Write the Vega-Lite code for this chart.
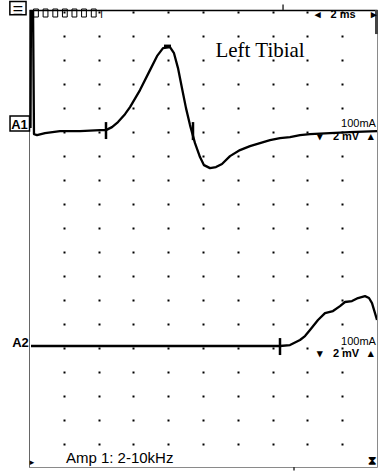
{
  "$schema": "https://vega.github.io/schema/vega-lite/v6.json",
  "width": 348,
  "height": 457,
  "autosize": {"type": "none"},
  "padding": {"left": 29, "top": 10, "right": 1, "bottom": 4},
  "background": "white",
  "config": {"view": {"stroke": "#8a8a8a", "strokeWidth": 1}},
  "datasets": {
    "traces": [
      {"ch": "A1", "t": 0.086, "v": 28.18},
      {"ch": "A1", "t": 0.115, "v": 38.5},
      {"ch": "A1", "t": 0.230, "v": 38.5},
      {"ch": "A1", "t": 0.287, "v": 27.68},
      {"ch": "A1", "t": 0.460, "v": 27.60},
      {"ch": "A1", "t": 0.920, "v": 27.76},
      {"ch": "A1", "t": 1.782, "v": 27.93},
      {"ch": "A1", "t": 2.931, "v": 27.93},
      {"ch": "A1", "t": 4.080, "v": 28.01},
      {"ch": "A1", "t": 4.425, "v": 28.01},
      {"ch": "A1", "t": 4.770, "v": 28.26},
      {"ch": "A1", "t": 5.115, "v": 28.68},
      {"ch": "A1", "t": 5.517, "v": 29.34},
      {"ch": "A1", "t": 5.805, "v": 29.93},
      {"ch": "A1", "t": 6.379, "v": 31.34},
      {"ch": "A1", "t": 6.954, "v": 33.00},
      {"ch": "A1", "t": 7.356, "v": 34.16},
      {"ch": "A1", "t": 7.701, "v": 34.83},
      {"ch": "A1", "t": 8.103, "v": 34.91},
      {"ch": "A1", "t": 8.333, "v": 34.41},
      {"ch": "A1", "t": 8.563, "v": 33.17},
      {"ch": "A1", "t": 8.793, "v": 31.50},
      {"ch": "A1", "t": 9.023, "v": 29.84},
      {"ch": "A1", "t": 9.253, "v": 28.43},
      {"ch": "A1", "t": 9.540, "v": 26.93},
      {"ch": "A1", "t": 9.828, "v": 25.77},
      {"ch": "A1", "t": 10.057, "v": 25.10},
      {"ch": "A1", "t": 10.402, "v": 24.85},
      {"ch": "A1", "t": 10.747, "v": 24.94},
      {"ch": "A1", "t": 11.092, "v": 25.19},
      {"ch": "A1", "t": 11.552, "v": 25.85},
      {"ch": "A1", "t": 12.126, "v": 26.35},
      {"ch": "A1", "t": 12.701, "v": 26.68},
      {"ch": "A1", "t": 13.276, "v": 26.93},
      {"ch": "A1", "t": 13.851, "v": 27.18},
      {"ch": "A1", "t": 14.425, "v": 27.35},
      {"ch": "A1", "t": 15.000, "v": 27.43},
      {"ch": "A1", "t": 15.575, "v": 27.60},
      {"ch": "A1", "t": 16.149, "v": 27.68},
      {"ch": "A1", "t": 17.299, "v": 27.76},
      {"ch": "A1", "t": 18.448, "v": 27.85},
      {"ch": "A1", "t": 20.000, "v": 27.93},
      {"ch": "A2", "t": 0.115, "v": 10.06},
      {"ch": "A2", "t": 14.425, "v": 10.06},
      {"ch": "A2", "t": 15.000, "v": 10.14},
      {"ch": "A2", "t": 15.575, "v": 10.56},
      {"ch": "A2", "t": 15.862, "v": 10.89},
      {"ch": "A2", "t": 16.149, "v": 11.39},
      {"ch": "A2", "t": 16.609, "v": 12.22},
      {"ch": "A2", "t": 17.011, "v": 12.80},
      {"ch": "A2", "t": 17.471, "v": 12.97},
      {"ch": "A2", "t": 17.874, "v": 13.38},
      {"ch": "A2", "t": 18.161, "v": 13.72},
      {"ch": "A2", "t": 18.563, "v": 13.80},
      {"ch": "A2", "t": 18.908, "v": 14.05},
      {"ch": "A2", "t": 19.310, "v": 14.21},
      {"ch": "A2", "t": 19.540, "v": 14.05},
      {"ch": "A2", "t": 19.713, "v": 13.63},
      {"ch": "A2", "t": 19.885, "v": 12.80},
      {"ch": "A2", "t": 20.000, "v": 12.22}
    ]
  },
  "layer": [
    {
      "data": {"name": "traces"},
      "mark": {"type": "line", "color": "black", "strokeWidth": 2.3, "strokeJoin": "round", "clip": true},
      "encoding": {
        "x": {"field": "t", "type": "quantitative", "scale": {"domain": [0, 20], "nice": false, "zero": false},
          "axis": {"orient": "top", "values": [2, 4, 6, 8, 10, 12, 14, 16, 18], "grid": true, "gridColor": "black", "gridWidth": 2, "gridDash": [2, 22], "gridDashOffset": 2, "gridOpacity": 1, "domainColor": "black", "domainWidth": 1.5, "labels": false, "ticks": false, "title": null}},
        "y": {"field": "v", "type": "quantitative", "scale": {"domain": [0, 38], "nice": false, "zero": false},
          "axis": {"domainColor": "#666", "domainWidth": 1, "labels": false, "ticks": false, "grid": false, "title": null}},
        "detail": {"field": "ch"}
      }
    },
    {
      "data": {"values": [
        {"t": 4.425, "v": 28.68, "v2": 27.27},
        {"t": 9.425, "v": 28.68, "v2": 27.18},
        {"t": 14.425, "v": 10.72, "v2": 9.31}
      ]},
      "mark": {"type": "rule", "color": "black", "strokeWidth": 2.5},
      "encoding": {
        "x": {"field": "t", "type": "quantitative", "scale": {"domain": [0, 20], "nice": false, "zero": false}},
        "y": {"field": "v", "type": "quantitative", "scale": {"domain": [0, 38], "nice": false, "zero": false}},
        "y2": {"field": "v2"}
      }
    },
    {
      "data": {"values": [
        {"t": 14.6, "v": 38.45, "v2": 38},
        {"t": 15.23, "v": 0, "v2": -0.3}
      ]},
      "mark": {"type": "rule", "color": "#333", "strokeWidth": 1.5},
      "encoding": {
        "x": {"field": "t", "type": "quantitative", "scale": {"domain": [0, 20], "nice": false, "zero": false}},
        "y": {"field": "v", "type": "quantitative", "scale": {"domain": [0, 38], "nice": false, "zero": false}},
        "y2": {"field": "v2"}
      }
    },
    {
      "data": {"values": [{"t": 7.76, "t2": 8.16, "v": 35.0}]},
      "mark": {"type": "rule", "color": "black", "strokeWidth": 3},
      "encoding": {
        "x": {"field": "t", "type": "quantitative", "scale": {"domain": [0, 20], "nice": false, "zero": false}},
        "x2": {"field": "t2"},
        "y": {"field": "v", "type": "quantitative", "scale": {"domain": [0, 38], "nice": false, "zero": false}}
      }
    },
    {
      "data": {"values": [{"t": 19.97, "v": 38, "v2": 36}]},
      "mark": {"type": "rule", "color": "#444", "strokeWidth": 3},
      "encoding": {
        "x": {"field": "t", "type": "quantitative", "scale": {"domain": [0, 20], "nice": false, "zero": false}},
        "y": {"field": "v", "type": "quantitative", "scale": {"domain": [0, 38], "nice": false, "zero": false}},
        "y2": {"field": "v2"}
      }
    },
    {
      "data": {"values": [{"t": -1.09, "t2": 0.03, "v": 29.18, "v2": 27.93}]},
      "mark": {"type": "rect", "fill": "white", "stroke": "black", "strokeWidth": 1.5},
      "encoding": {
        "x": {"field": "t", "type": "quantitative", "scale": {"domain": [0, 20], "nice": false, "zero": false}},
        "x2": {"field": "t2"},
        "y": {"field": "v", "type": "quantitative", "scale": {"domain": [0, 38], "nice": false, "zero": false}},
        "y2": {"field": "v2"}
      }
    },
    {
      "data": {"values": [{"t": -1.1, "t2": -0.17, "v": 38.7, "v2": 37.6}]},
      "mark": {"type": "rect", "fill": "white", "stroke": "black", "strokeWidth": 1.5},
      "encoding": {
        "x": {"field": "t", "type": "quantitative", "scale": {"domain": [0, 20], "nice": false, "zero": false}},
        "x2": {"field": "t2"},
        "y": {"field": "v", "type": "quantitative", "scale": {"domain": [0, 38], "nice": false, "zero": false}},
        "y2": {"field": "v2"}
      }
    },
    {
      "data": {"values": [{"t": -0.64, "v": 37.55, "label": "☰"}]},
      "mark": {"type": "text", "font": "DejaVu Sans", "fontSize": 12, "align": "center", "baseline": "alphabetic", "color": "black"},
      "encoding": {
        "x": {"field": "t", "type": "quantitative", "scale": {"domain": [0, 20], "nice": false, "zero": false}},
        "y": {"field": "v", "type": "quantitative", "scale": {"domain": [0, 38], "nice": false, "zero": false}},
        "text": {"field": "label"}
      }
    },
    {
      "data": {"values": [
        {"t": 0.40, "v": 37.75}, {"t": 0.95, "v": 37.75}, {"t": 1.51, "v": 37.75}, {"t": 2.06, "v": 37.75},
        {"t": 2.61, "v": 37.75}, {"t": 3.16, "v": 37.75}, {"t": 3.72, "v": 37.75}
      ]},
      "mark": {"type": "point", "shape": "M-0.6,-1L0.6,-1L0.6,1L-0.6,1Z", "filled": false, "color": "black", "size": 64, "strokeWidth": 1, "opacity": 1},
      "encoding": {
        "x": {"field": "t", "type": "quantitative", "scale": {"domain": [0, 20], "nice": false, "zero": false}},
        "y": {"field": "v", "type": "quantitative", "scale": {"domain": [0, 38], "nice": false, "zero": false}}
      }
    },
    {
      "data": {"values": [{"t": 4.25, "v": 37.35, "label": "Г"}]},
      "mark": {"type": "text", "font": "Liberation Sans", "fontSize": 10, "align": "center", "baseline": "alphabetic", "color": "black"},
      "encoding": {
        "x": {"field": "t", "type": "quantitative", "scale": {"domain": [0, 20], "nice": false, "zero": false}},
        "y": {"field": "v", "type": "quantitative", "scale": {"domain": [0, 38], "nice": false, "zero": false}},
        "text": {"field": "label"}
      }
    },
    {
      "data": {"values": [{"t": 13.28, "v": 34.08, "label": "Left Tibial"}]},
      "mark": {"type": "text", "font": "Liberation Serif", "fontSize": 21, "align": "center", "baseline": "alphabetic", "color": "black"},
      "encoding": {
        "x": {"field": "t", "type": "quantitative", "scale": {"domain": [0, 20], "nice": false, "zero": false}},
        "y": {"field": "v", "type": "quantitative", "scale": {"domain": [0, 38], "nice": false, "zero": false}},
        "text": {"field": "label"}
      }
    },
    {
      "data": {"values": [
        {"t": 18.05, "v": 37.32, "label": "2 ms"},
        {"t": 16.61, "v": 37.32, "label": "◂"},
        {"t": 19.83, "v": 37.32, "label": "▸"},
        {"t": 18.22, "v": 27.18, "label": "2 mV"},
        {"t": 16.72, "v": 27.18, "label": "▾"},
        {"t": 19.66, "v": 27.18, "label": "▴"},
        {"t": 18.22, "v": 9.14, "label": "2 mV"},
        {"t": 16.72, "v": 9.14, "label": "▾"},
        {"t": 19.66, "v": 9.14, "label": "▴"}
      ]},
      "mark": {"type": "text", "font": "Liberation Sans", "fontSize": 11, "fontWeight": "bold", "align": "center", "baseline": "alphabetic", "color": "black"},
      "encoding": {
        "x": {"field": "t", "type": "quantitative", "scale": {"domain": [0, 20], "nice": false, "zero": false}},
        "y": {"field": "v", "type": "quantitative", "scale": {"domain": [0, 38], "nice": false, "zero": false}},
        "text": {"field": "label"}
      }
    },
    {
      "data": {"values": [
        {"t": 19.94, "v": 28.26, "label": "100mA"},
        {"t": 19.94, "v": 10.14, "label": "100mA"}
      ]},
      "mark": {"type": "text", "font": "Liberation Sans", "fontSize": 11, "align": "right", "baseline": "alphabetic", "color": "black"},
      "encoding": {
        "x": {"field": "t", "type": "quantitative", "scale": {"domain": [0, 20], "nice": false, "zero": false}},
        "y": {"field": "v", "type": "quantitative", "scale": {"domain": [0, 38], "nice": false, "zero": false}},
        "text": {"field": "label"}
      }
    },
    {
      "data": {"values": [
        {"t": -0.546, "v": 28.10, "label": "A1"},
        {"t": -0.489, "v": 9.975, "label": "A2"}
      ]},
      "mark": {"type": "text", "font": "Liberation Sans", "fontSize": 13, "fontWeight": "bold", "align": "center", "baseline": "alphabetic", "color": "black"},
      "encoding": {
        "x": {"field": "t", "type": "quantitative", "scale": {"domain": [0, 20], "nice": false, "zero": false}},
        "y": {"field": "v", "type": "quantitative", "scale": {"domain": [0, 38], "nice": false, "zero": false}},
        "text": {"field": "label"}
      }
    },
    {
      "data": {"values": [{"t": 2.12, "v": 0.33, "label": "Amp 1: 2-10kHz"}]},
      "mark": {"type": "text", "font": "Liberation Sans", "fontSize": 15, "align": "left", "baseline": "alphabetic", "color": "black"},
      "encoding": {
        "x": {"field": "t", "type": "quantitative", "scale": {"domain": [0, 20], "nice": false, "zero": false}},
        "y": {"field": "v", "type": "quantitative", "scale": {"domain": [0, 38], "nice": false, "zero": false}},
        "text": {"field": "label"}
      }
    },
    {
      "data": {"values": [{"t": 0.17, "v": 0.42, "label": "▸"}]},
      "mark": {"type": "text", "font": "DejaVu Sans", "fontSize": 9, "align": "center", "baseline": "middle", "color": "black"},
      "encoding": {
        "x": {"field": "t", "type": "quantitative", "scale": {"domain": [0, 20], "nice": false, "zero": false}},
        "y": {"field": "v", "type": "quantitative", "scale": {"domain": [0, 38], "nice": false, "zero": false}},
        "text": {"field": "label"}
      }
    },
    {
      "data": {"values": [{"t": 19.72, "v": 0.55, "label": "⧗"}]},
      "mark": {"type": "text", "font": "DejaVu Sans", "fontSize": 12, "fontWeight": "bold", "align": "center", "baseline": "middle", "color": "black"},
      "encoding": {
        "x": {"field": "t", "type": "quantitative", "scale": {"domain": [0, 20], "nice": false, "zero": false}},
        "y": {"field": "v", "type": "quantitative", "scale": {"domain": [0, 38], "nice": false, "zero": false}},
        "text": {"field": "label"}
      }
    }
  ]
}
